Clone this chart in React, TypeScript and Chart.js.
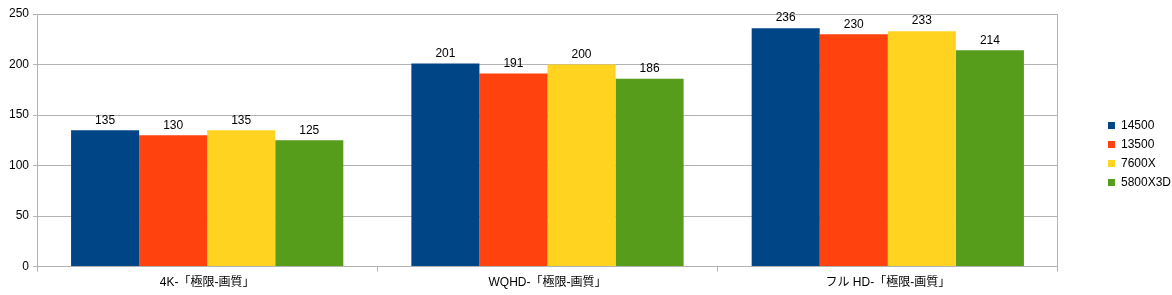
import React, { useEffect, useRef } from "react";
import { Chart, registerables } from "chart.js";

Chart.register(...registerables);

const categories = ["4K-「極限-画質」", "WQHD-「極限-画質」", "フル HD-「極限-画質」"];
const seriesNames = ["14500", "13500", "7600X", "5800X3D"];
const s14500 = [135, 201, 236];
const s13500 = [130, 191, 230];
const s7600X = [135, 200, 233];
const s5800X3D = [125, 186, 214];
const seriesColors = ["#004586", "#ff420e", "#ffd320", "#579d1c"];
const yTicks = [0, 50, 100, 150, 200, 250];

const FONT = "'Liberation Sans', Arial, 'Noto Sans CJK JP', sans-serif";

const valueLabels = {
  id: "valueLabels",
  afterDatasetsDraw(chart: any) {
    const ctx = chart.ctx;
    ctx.save();
    ctx.font = `12px ${FONT}`;
    ctx.fillStyle = "#000";
    ctx.textAlign = "center";
    ctx.textBaseline = "bottom";
    chart.data.datasets.forEach((ds: any, i: number) => {
      const meta = chart.getDatasetMeta(i);
      meta.data.forEach((bar: any, j: number) => {
        ctx.fillText(String(ds.data[j]), bar.x, bar.y - 4);
      });
    });
    ctx.restore();
  },
};

export default function App() {
  const ref = useRef<HTMLCanvasElement>(null);
  useEffect(() => {
    if (!ref.current) return;
    const data = [s14500, s13500, s7600X, s5800X3D];
    const chart = new Chart(ref.current, {
      type: "bar",
      data: {
        labels: categories,
        datasets: seriesNames.map((name, i) => ({
          label: name,
          data: data[i],
          backgroundColor: seriesColors[i],
          borderWidth: 0,
          categoryPercentage: 0.8,
          barPercentage: 1,
          yAxisID: "y",
        })),
      },
      options: {
        responsive: false,
        animation: false,
        layout: { padding: { top: 14, right: -9, bottom: 1, left: 5 } },
        plugins: {
          legend: {
            position: "right",
            labels: {
              boxWidth: 7,
              boxHeight: 7,
              padding: 7,
              color: "#000",
              font: { size: 12, family: FONT },
            },
          },
          tooltip: { enabled: false },
        },
        scales: {
          x: {
            grid: {
              display: true,
              drawOnChartArea: false,
              drawTicks: true,
              tickLength: 5,
              offset: true,
              color: "#b3b3b3",
            },
            border: { display: true, color: "#b3b3b3" },
            ticks: {
              color: "#000",
              font: { size: 12, family: FONT },
              padding: 4,
              maxRotation: 0,
            },
          },
          y: {
            min: 0,
            max: 250,
            afterBuildTicks: (scale: any) => {
              scale.ticks = yTicks.map((v) => ({ value: v }));
            },
            grid: { color: "#b3b3b3", tickLength: 4, drawTicks: true },
            border: { display: true, color: "#b3b3b3" },
            ticks: {
              color: "#000",
              font: { size: 12, family: FONT },
              padding: 4,
            },
          },
          yRight: {
            position: "right",
            min: 0,
            max: 250,
            display: true,
            grid: { display: false, drawOnChartArea: false, drawTicks: false },
            border: { display: true, color: "#b3b3b3" },
            ticks: { display: false },
            afterFit: (scale: any) => {
              scale.width = 43;
            },
          },
        },
      },
      plugins: [valueLabels],
    });
    return () => chart.destroy();
  }, []);
  return (
    <div style={{ position: "absolute", left: 0, top: 0, width: 1172, height: 295, background: "#fff" }}>
      <canvas ref={ref} width={1172} height={295} />
    </div>
  );
}
